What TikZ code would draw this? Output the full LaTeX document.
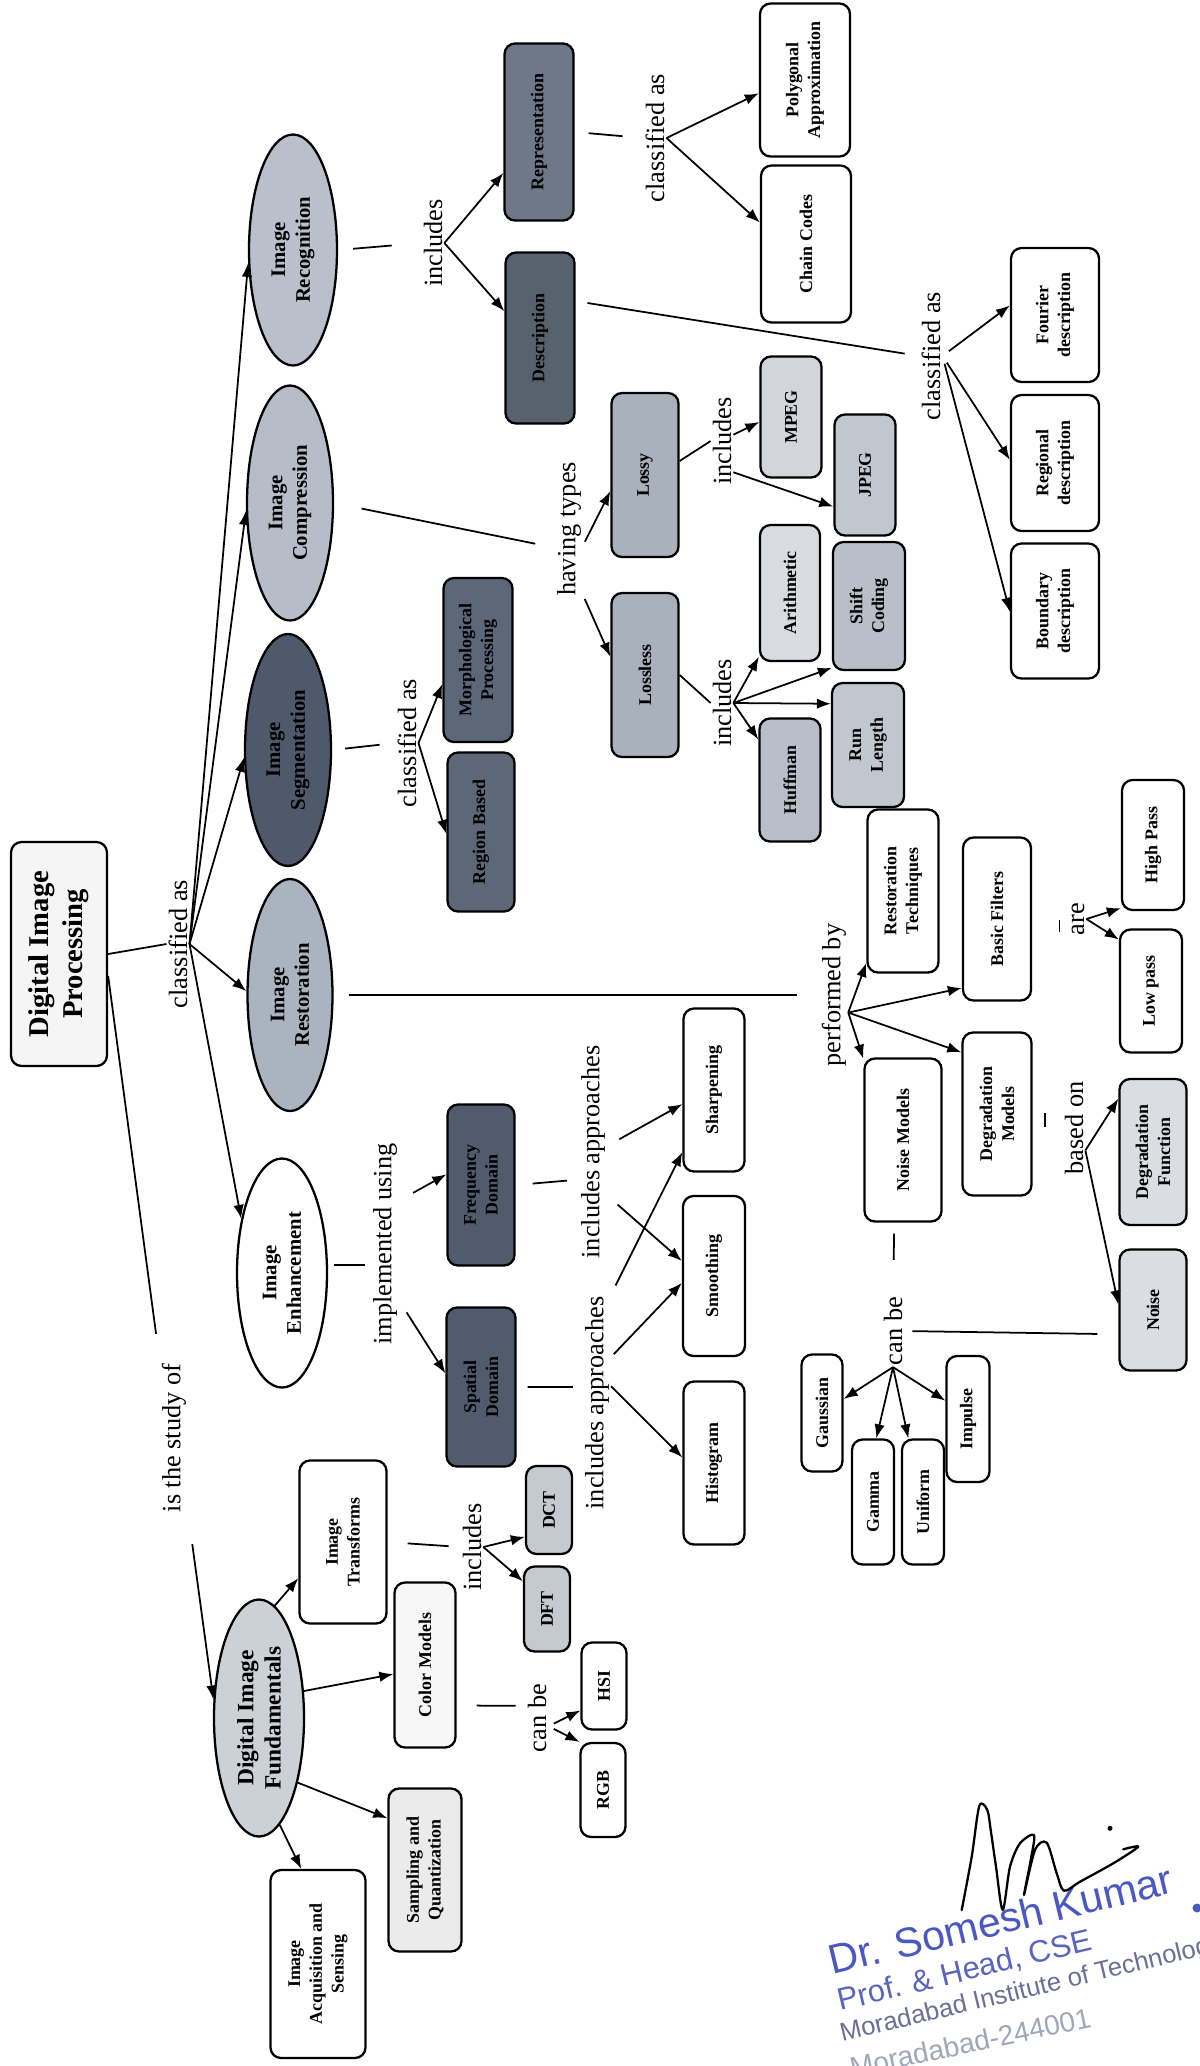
\documentclass[tikz,border=0pt]{standalone}
\usepackage{fontspec}
\setmainfont{Liberation Serif}
\newfontfamily\stampfont{Liberation Sans}
\usetikzlibrary{shapes.geometric,arrows.meta}
\newdimen\upx \upx=0.02cm
\definecolor{cRec}{HTML}{B9C0CB}
\definecolor{cComp}{HTML}{B6BDC8}
\definecolor{cSeg}{HTML}{4E5A6C}
\definecolor{cRest}{HTML}{AAB4C1}
\definecolor{cDif}{HTML}{CCD1D8}
\definecolor{cRep}{HTML}{6E7888}
\definecolor{cDesc}{HTML}{57626F}
\definecolor{cLoss}{HTML}{A9B1BD}
\definecolor{cMpeg}{HTML}{D2D6DC}
\definecolor{cJpeg}{HTML}{C1C7CF}
\definecolor{cArith}{HTML}{D8DBE0}
\definecolor{cShift}{HTML}{B8BFC9}
\definecolor{cDark}{HTML}{5C6778}
\definecolor{cDarker}{HTML}{505C6D}
\definecolor{cLight}{HTML}{DADDE2}
\definecolor{cDct}{HTML}{C5CAD1}
\definecolor{cStampA}{HTML}{4A58C4}
\definecolor{cStampB}{HTML}{5864C0}
\definecolor{cStampC}{HTML}{6A6F98}
\definecolor{cStampD}{HTML}{A3A6BA}
\begin{document}
\begin{tikzpicture}[x=0.02cm,y=-0.02cm,
  rnode/.style={rotate=90, align=center, line width=1.3pt, inner sep=1pt},
  box/.style={rnode, draw, fill=white, rounded corners=6pt,
    font=\bfseries\fontsize{10.2}{12.4}\selectfont},
  oval/.style={rnode, draw, ellipse, inner sep=0pt,
    font=\bfseries\fontsize{11.8}{14}\selectfont},
  lbl/.style={rotate=90, inner sep=1pt, font=\fontsize{15}{18}\selectfont},
  sz/.style 2 args={minimum height=#1*\upx, minimum width=#2*\upx},
  wire/.style={line width=1pt},
  arr/.style={wire, -{Latex[length=8pt,width=6pt]}},
  stamp/.style={rotate=13.5, anchor=base west, inner sep=0pt}]
\useasboundingbox (0,0) rectangle (1200,2066);
\clip (0,0) rectangle (1200,2066);
\fill[white] (0,0) rectangle (1200,2066);

% ---------- root and main branches ----------
\node[box, sz={96}{224}, fill=black!4, font=\bfseries\fontsize{16.3}{19.5}\selectfont] (dip) at (59,954) {Digital Image\\Processing};
\node[oval, sz={88}{231}, fill=cRec] (rec) at (293,250) {Image\\Recognition};
\node[oval, sz={86}{235}, fill=cComp] (comp) at (290,503) {Image\\Compression};
\node[oval, sz={86}{232}, fill=cSeg] (seg) at (288,750) {Image\\Segmentation};
\node[oval, sz={85}{232}, fill=cRest] (rest) at (290,995) {Image\\Restoration};
\node[oval, sz={90}{229}, fill=white] (enh) at (282,1273) {Image\\Enhancement};
\node[oval, sz={90}{237}, fill=cDif, font=\bfseries\fontsize{13.3}{15.5}\selectfont] (dif) at (259,1718) {Digital Image\\Fundamentals};

% ---------- recognition ----------
\node[box, sz={69}{177}, fill=cRep] (repr) at (539,132) {Representation};
\node[box, sz={69}{171}, fill=cDesc] (desc) at (540,338) {Description};
\node[box, sz={90}{153}] (poly) at (805,80) {Polygonal\\Approximation};
\node[box, sz={90}{157}] (chain) at (806,244) {Chain Codes};
\node[box, sz={88}{134}] (four) at (1055,315) {Fourier\\description};
\node[box, sz={88}{136}] (regi) at (1055,463) {Regional\\description};
\node[box, sz={88}{135}] (boun) at (1055,611) {Boundary\\description};

% ---------- compression ----------
\node[box, sz={67}{164}, fill=cLoss] (lossy) at (645,475) {Lossy};
\node[box, sz={67}{164}, fill=cLoss] (lossless) at (645,675) {Lossless};
\node[box, sz={61}{121}, fill=cMpeg] (mpeg) at (791,417) {MPEG};
\node[box, sz={61}{121}, fill=cJpeg] (jpeg) at (865,475) {JPEG};
\node[box, sz={60}{136}, fill=cArith] (arith) at (790,593) {Arithmetic};
\node[box, sz={72}{128}, fill=cShift] (shift) at (869,606) {Shift\\Coding};
\node[box, sz={61}{123}, fill=cShift] (huff) at (790,780) {Huffman};
\node[box, sz={72}{124}, fill=cJpeg] (run) at (868,745) {Run\\Length};

% ---------- segmentation ----------
\node[box, sz={69}{164}, fill=cDark] (morph) at (478,660) {Morphological\\Processing};
\node[box, sz={67}{159}, fill=cDark] (region) at (481,832) {Region Based};

% ---------- enhancement ----------
\node[box, sz={67}{161}, fill=cDarker] (freq) at (481,1185) {Frequency\\Domain};
\node[box, sz={69}{159}, fill=cDarker] (spat) at (481,1387) {Spatial\\Domain};
\node[box, sz={61}{163}] (sharp) at (714,1090) {Sharpening};
\node[box, sz={62}{160}] (smooth) at (714,1276) {Smoothing};
\node[box, sz={61}{163}] (hist) at (714,1463) {Histogram};

% ---------- restoration ----------
\node[box, sz={71}{163}] (restech) at (903,891) {Restoration\\Techniques};
\node[box, sz={77}{163}] (noisem) at (903,1140) {Noise Models};
\node[box, sz={68}{163}] (basic) at (997,919) {Basic Filters};
\node[box, sz={69}{163}] (degm) at (997,1114) {Degradation\\Models};
\node[box, sz={62}{130}] (high) at (1153,845) {High Pass};
\node[box, sz={62}{123}] (low) at (1151,991) {Low pass};
\node[box, sz={67}{146}, fill=cLight] (degf) at (1153,1152) {Degradation\\Function};
\node[box, sz={67}{121}, fill=cLight] (noise) at (1153,1310) {Noise};
\node[box, sz={41}{117}] (gauss) at (822,1413) {Gaussian};
\node[box, sz={42}{125}] (gamma) at (873,1502) {Gamma};
\node[box, sz={42}{125}] (unif) at (923,1502) {Uniform};
\node[box, sz={43}{126}] (impulse) at (968,1419) {Impulse};

% ---------- fundamentals ----------
\node[box, sz={87}{163}] (itr) at (343,1542) {Image\\Transforms};
\node[box, sz={61}{165}, fill=black!3] (cm) at (425,1665) {Color Models};
\node[box, sz={73}{163}, fill=black!8] (samp) at (425,1870) {Sampling and\\Quantization};
\node[box, sz={95}{188}] (acq) at (318,1964) {Image\\Acquisition and\\Sensing};
\node[box, sz={46}{88}, fill=cDct] (dct) at (549,1510) {DCT};
\node[box, sz={46}{85}, fill=cDct] (dft) at (547,1609) {DFT};
\node[box, sz={45}{87}] (hsi) at (604,1686) {HSI};
\node[box, sz={45}{94}] (rgb) at (603,1790) {RGB};

% ---------- linking phrases ----------
\node[lbl] (lcls) at (178,944) {classified as};
\node[lbl] (lstudy) at (174,1438) {is the study of};
\node[lbl] (linc1) at (433,243) {includes};
\node[lbl] (lcls2) at (655,138) {classified as};
\node[lbl] (lcls3) at (931,356) {classified as};
\node[lbl] (lhav) at (569,529) {having types};
\node[lbl] (linc2) at (722,441) {includes};
\node[lbl] (linc3) at (722,703) {includes};
\node[lbl] (lcls4) at (407,743) {classified as};
\node[lbl] (limp) at (385,1244) {implemented using};
\node[lbl] (lapp1) at (593,1152) {includes approaches};
\node[lbl] (lapp2) at (597,1403) {includes approaches};
\node[lbl] (lperf) at (834,995) {performed by};
\node[lbl] (lare) at (1078,919) {are};
\node[lbl] (lbased) at (1074,1128) {based on};
\node[lbl] (lcan1) at (893,1331) {can be};
\node[lbl] (linc4) at (472,1547) {includes};
\node[lbl] (lcan2) at (537,1718) {can be};

% ---------- connectors: root ----------
\draw[wire] (dip.south) -- (lcls.north);
\draw[arr] (lcls.south) -- (rec.106.5);
\draw[arr] (lcls.south) -- (comp.100.5);
\draw[arr] (lcls.south) -- (seg.100.5);
\draw[arr] (lcls.south) -- (rest.85.9);
\draw[arr] (lcls.south) -- (enh.37.7);
\draw[wire, shorten >=28*\upx] (dip.246.4) -- (lstudy.north east);
\draw[arr, shorten <=30*\upx] (lstudy.south west) -- (dif.68.4);

% ---------- connectors: recognition ----------
\draw[wire, shorten <=15*\upx, shorten >=30*\upx] (rec.south) -- (linc1.north);
\draw[arr] (linc1.south) -- (repr.139.4);
\draw[arr] (linc1.south) -- (desc.53.4);
\draw[wire, shorten <=14*\upx, shorten >=21*\upx] (repr.south) -- (lcls2.north);
\draw[arr] (lcls2.south) -- (poly.106.1);
\draw[arr] (lcls2.south) -- (chain.65.5);
\draw[wire, shorten <=12*\upx, shorten >=15*\upx] (desc.316.2) -- (lcls3.north);
\draw[arr, shorten <=8*\upx] (lcls3.south) -- (four.78.4);
\draw[arr, shorten <=8*\upx] (lcls3.south) -- (regi.86.1);
\draw[arr, shorten <=8*\upx] (lcls3.south) -- (boun.91.3);

% ---------- connectors: compression ----------
\draw[wire, shorten <=28*\upx, shorten >=20*\upx] (comp.south) -- (lhav.143.6);
\draw[arr, shorten <=4*\upx] (lhav.221.2) -- (lossy.115.2);
\draw[arr, shorten <=4*\upx] (lhav.192.3) -- (lossless.62.1);
\draw[wire] (lossy.292.7) -- (linc2.north);
\draw[arr] (linc2.299.7) -- (mpeg.99.3);
\draw[arr] (linc2.200.7) -- (jpeg.135.9);
\draw[wire] (lossless.south) -- (linc3.north);
\draw[arr] (linc3.south) -- (arith.154.9);
\draw[arr] (linc3.south) -- (shift.149.9);
\draw[arr] (linc3.south) -- (run.42);
\draw[arr] (linc3.south) -- (huff.38.3);

% ---------- connectors: segmentation ----------
\draw[wire, shorten <=13*\upx, shorten >=16*\upx] (seg.south) -- (lcls4.north);
\draw[arr] (lcls4.south) -- (morph.124.1);
\draw[arr] (lcls4.south) -- (region.93.4);

% ---------- connectors: restoration ----------
\draw[wire, shorten <=15*\upx, shorten >=23*\upx] (rest.south) -- (lperf.north);
\draw[arr] (lperf.219.5) -- (restech.153.7);
\draw[arr] (lperf.219.5) -- (basic.153.1);
\draw[arr] (lperf.219.5) -- (degm.30.3);
\draw[arr] (lperf.219.5) -- (noisem.26.3);
\draw[wire] ([shift={(-10,1)}]lare.north) -- ++(0,12);
\draw[arr] (lare.south) -- (high.153.8);
\draw[arr] (lare.south) -- (low.32.9);
\draw[wire] ([shift={(-18,-15)}]lbased.north) -- ++(0,14);
\draw[arr] (lbased.207.4) -- (degf.33.4);
\draw[arr] (lbased.207.4) -- (noise.81.5);
\draw[wire, shorten <=21*\upx, shorten >=8*\upx] (noise.125.6) -- (lcan1.south);
\draw[wire, shorten <=11*\upx, shorten >=35*\upx] (noisem.174.4) -- (lcan1.east);
\draw[arr] (lcan1.west) -- (gauss.303.7);
\draw[arr] (lcan1.west) -- (gamma.357.3);
\draw[arr] (lcan1.west) -- (unif.13.5);
\draw[arr] (lcan1.west) -- (impulse.51.7);

% ---------- connectors: enhancement ----------
\draw[wire, shorten <=6*\upx, shorten >=6*\upx] (enh.280.1) -- (limp.146.3);
\draw[arr, shorten <=16*\upx] (limp.342.3) -- (freq.73.4);
\draw[arr, shorten <=14*\upx] (limp.194) -- (spat.69.6);
\draw[wire, shorten <=17*\upx, shorten >=12*\upx] (freq.south) -- (lapp1.153.4);
\draw[wire, shorten <=11*\upx, shorten >=10*\upx] (spat.south) -- (lapp2.41.2);
\draw[arr, shorten <=14*\upx] (lapp1.293.2) -- (sharp.114.7);
\draw[arr, shorten <=14*\upx] (lapp1.198) -- (smooth.65.7);
\draw[arr, shorten <=10*\upx] (lapp2.south east) -- (sharp.153.4);
\draw[arr, shorten <=4*\upx] (lapp2.343.4) -- (smooth.102.7);
\draw[arr] (lapp2.320.5) -- (hist.80.7);

% ---------- connectors: fundamentals ----------
\draw[arr] (dif.352.6) -- (itr.129.6);
\draw[arr] (dif.301.9) -- (cm.106.4);
\draw[arr] (dif.211.8) -- (samp.36.7);
\draw[arr] (dif.191.7) -- (acq.10.8);
\draw[wire, shorten <=20*\upx, shorten >=12*\upx] (itr.south) -- (linc4.north);
\draw[arr] (linc4.south) -- (dct.138.5);
\draw[arr] (linc4.south) -- (dft.41.5);
\draw[wire, shorten <=20*\upx, shorten >=10*\upx] (cm.218.7) -- (lcan2.43);
\draw[arr, shorten <=6*\upx] (lcan2.234.5) -- (hsi.136.8);
\draw[arr, shorten <=6*\upx] (lcan2.234.5) -- (rgb.26.6);

% ---------- stamp and signature ----------
\node[stamp, text=cStampA, font=\stampfont\fontsize{23.5}{28}\selectfont] (st1) at (832,1975) {Dr. Somesh Kumar};
\fill[cStampA] (1197,1908) circle[radius=0.09cm];
\node[stamp, text=cStampB, font=\stampfont\fontsize{17.6}{21}\selectfont] (st2) at (840,2011) {Prof. \& Head, CSE};
\node[stamp, text=cStampC, font=\stampfont\fontsize{14.6}{18}\selectfont] (st3) at (842,2042) {Moradabad Institute of Technology};
\node[stamp, rotate=-1.5, text=cStampD, font=\stampfont\fontsize{16}{19}\selectfont] (st4) at (852,2078) {Moradabad-244001};
\draw[line width=1.3pt, line cap=round, line join=round]
  plot[smooth, tension=0.5] coordinates {(961.7,1910) (971.7,1856.7) (979.3,1806) (987.3,1810) (990.7,1830) (996,1866.7) (1002.7,1910) (1010,1866.7) (1020,1843.3) (1034,1835) (1030.7,1860) (1024,1895) (1035,1850) (1046.7,1842.7) (1056.7,1873.3) (1064,1890.7) (1080,1881.7) (1113.3,1863.3) (1138.3,1846.7) (1123.3,1849.3)};
\fill (1110,1828.3) circle[radius=0.05cm];
\end{tikzpicture}
\end{document}
